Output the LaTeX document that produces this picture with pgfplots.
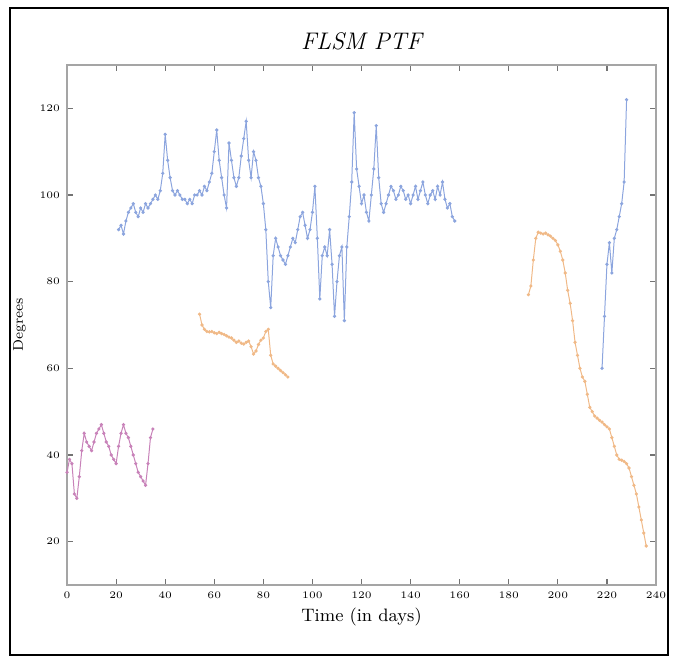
\documentclass[border=0pt]{standalone}
\usepackage{pgfplots}
\pgfplotsset{compat=1.18}
\definecolor{sblue}{RGB}{140,165,222}
\definecolor{spink}{RGB}{200,130,185}
\definecolor{sorange}{RGB}{240,185,135}
\definecolor{spine}{RGB}{165,165,165}
\begin{document}
\begin{tikzpicture}
\begin{axis}[
  scale only axis, width=294.5pt, height=260pt,
  xmin=0, xmax=240, ymin=10, ymax=130,
  xtick={0,20,...,240}, ytick={20,40,...,120},
  axis line style={draw=spine, line width=1.3pt},
  tick style={draw=spine!70!black, line width=0.6pt},
  major tick length=3pt,
  ticklabel style={font=\tiny},
  title={\itshape FLSM PTF},
  title style={font=\large, yshift=-2pt},
  xlabel={Time (in days)}, ylabel={Degrees},
  xlabel style={font=\small, yshift=2pt},
  ylabel style={font=\scriptsize},
  clip=false,
  every axis plot/.append style={line width=0.5pt, mark=*, mark size=0.55pt},
]
\addplot[spink, mark options={fill=spink}] coordinates {
(0,36) (1,39) (2,38) (3,31) (4,30) (5,35) (6,41) (7,45) (8,43) (9,42) (10,41) (11,43) (12,45) (13,46) (14,47) (15,45) (16,43) (17,42) (18,40) (19,39) (20,38) (21,42) (22,45) (23,47) (24,45) (25,44) (26,42) (27,40) (28,38) (29,36) (30,35) (31,34) (32,33) (33,38) (34,44) (35,46)
};
\addplot[sblue, mark options={fill=sblue}] coordinates {
(21,92) (22,93) (23,91) (24,94) (25,96) (26,97) (27,98) (28,96) (29,95) (30,97) (31,96) (32,98) (33,97) (34,98) (35,99) (36,100) (37,99) (38,101) (39,105) (40,114) (41,108) (42,104) (43,101) (44,100) (45,101) (46,100) (47,99) (48,99) (49,98) (50,99) (51,98) (52,100) (53,100) (54,101) (55,100) (56,102) (57,101) (58,103) (59,105) (60,110) (61,115) (62,108) (63,104) (64,100) (65,97) (66,112) (67,108) (68,104) (69,102) (70,104) (71,109) (72,113) (73,117) (74,108) (75,104) (76,110) (77,108) (78,104) (79,102) (80,98) (81,92) (82,80) (83,74) (84,86) (85,90) (86,88) (87,86) (88,85) (89,84) (90,86) (91,88) (92,90) (93,89) (94,92) (95,95) (96,96) (97,93) (98,90) (99,92) (100,96) (101,102) (102,90) (103,76) (104,86) (105,88) (106,86) (107,92) (108,84) (109,72) (110,80) (111,86) (112,88) (113,71) (114,88) (115,95) (116,103) (117,119) (118,106) (119,102) (120,98) (121,100) (122,96) (123,94) (124,100) (125,106) (126,116) (127,104) (128,98) (129,96) (130,98) (131,100) (132,102) (133,101) (134,99) (135,100) (136,102) (137,101) (138,99) (139,100) (140,98) (141,100) (142,102) (143,99) (144,101) (145,103) (146,100) (147,98) (148,100) (149,101) (150,99) (151,102) (152,100) (153,103) (154,99) (155,97) (156,98) (157,95) (158,94)
};
\addplot[sblue, mark options={fill=sblue}] coordinates {
(218,60) (219,72) (220,84) (221,89) (222,82) (223,90) (224,92) (225,95) (226,98) (227,103) (228,122)
};
\addplot[sorange, mark options={fill=sorange}] coordinates {
(54,72.5) (55,70) (56,69) (57,68.5) (58,68.4) (59,68.5) (60,68.2) (61,68) (62,68.3) (63,68) (64,67.8) (65,67.5) (66,67.2) (67,67) (68,66.5) (69,66) (70,66.3) (71,65.8) (72,65.6) (73,66) (74,66.3) (75,65) (76,63.3) (77,64) (78,65.5) (79,66.5) (80,67) (81,68.5) (82,69) (83,63) (84,61) (85,60.5) (86,60) (87,59.5) (88,59) (89,58.5) (90,58)
};
\addplot[sorange, mark options={fill=sorange}] coordinates {
(188,77) (189,79) (190,85) (191,90) (192,91.4) (193,91.2) (194,91) (195,91.2) (196,90.8) (197,90.5) (198,90) (199,89.5) (200,88.5) (201,87) (202,85) (203,82) (204,78) (205,75) (206,71) (207,66) (208,63) (209,60) (210,58) (211,57) (212,54) (213,51) (214,50) (215,49) (216,48.5) (217,48) (218,47.6) (219,47) (220,46.5) (221,46) (222,44) (223,42) (224,40) (225,39) (226,38.8) (227,38.5) (228,38) (229,37) (230,35) (231,33) (232,31) (233,28) (234,25) (235,22) (236,19)
};
\draw[black, line width=1pt] (axis description cs:-0.0968,-0.1346) rectangle (axis description cs:1.0204,1.1096);
\path (axis description cs:-0.1138,-0.1519) rectangle (axis description cs:1.039,1.125);
\end{axis}
\end{tikzpicture}
\end{document}
